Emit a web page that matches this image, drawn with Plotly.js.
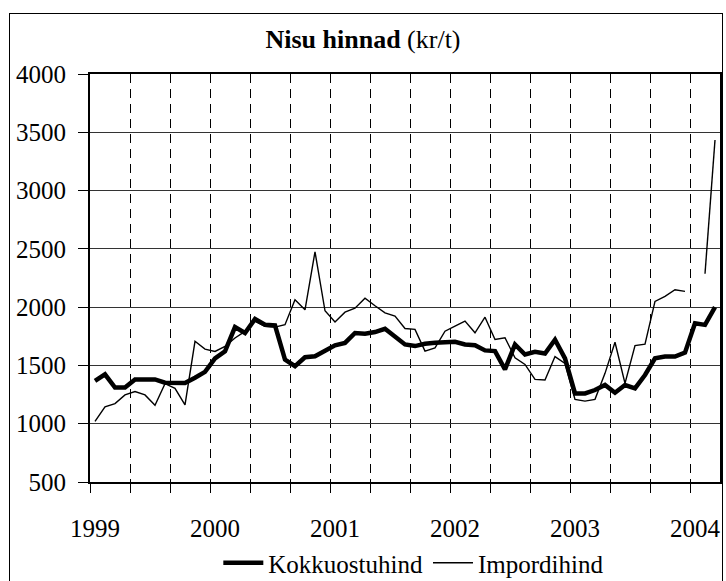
<!DOCTYPE html>
<html>
<head>
<meta charset="utf-8">
<script src="https://cdn.plot.ly/plotly-3.0.1.min.js"></script>
<style>
  html, body { margin: 0; padding: 0; background: #fff; overflow: hidden; }
  #wrap { position: relative; width: 726px; height: 581px; overflow: hidden; }
  #chart { position: absolute; left: 0; top: 0; width: 726px; height: 581px; }
  #frame { position: absolute; left: 9px; top: 13px; width: 714px; height: 620px;
           border: 1.5px solid #000; pointer-events: none; box-sizing: border-box; }
</style>
</head>
<body>
<div id="wrap">
  <div id="chart"></div>
  <div id="frame"></div>
</div>
<script>
// Monthly wheat prices, Jan 1999 - Mar 2004 (kr/t)
const kokkuostuhind = [
  1367, 1423, 1310, 1310, 1380, 1380, 1380, 1352, 1350, 1350, 1395, 1445,
  1560, 1621, 1829, 1778, 1898, 1849, 1843, 1550, 1493, 1570, 1579, 1621,
  1673, 1693, 1778, 1772, 1786, 1814, 1751, 1680, 1666, 1686, 1694, 1703,
  1703, 1680, 1674, 1629, 1623, 1466, 1680, 1594, 1617, 1602, 1720, 1560,
  1260, 1260, 1289, 1332, 1266, 1332, 1303, 1418, 1561, 1576, 1576, 1610,
  1862, 1848, 2000
];
const impordihind = [
  1020, 1145, 1173, 1247, 1276, 1247, 1159, 1344, 1304, 1162, 1707, 1640,
  1620, 1664, 1735, 1792, 1878, 1835, 1829, 1849, 2063, 1977, 2475, 1969,
  1872, 1957, 1991, 2077, 2012, 1951, 1923, 1817, 1809, 1623, 1651, 1794,
  1837, 1880, 1780, 1914, 1723, 1737, 1566, 1509, 1380, 1375, 1576, 1518,
  1209, 1194, 1209, 1432, 1699, 1346, 1670, 1682, 2049, 2092, 2149, 2135,
  null, 2287, 3434
];
const yearLabels = ['1999', '2000', '2001', '2002', '2003', '2004'];
const yearTickIdx = [0, 12, 24, 36, 48, 60];
const seriesNames = ['Kokkuostuhind', 'Impordihind'];

const monthIdx = kokkuostuhind.map((_, i) => i);
const FONT = 'Liberation Serif, Times New Roman, serif';

const traces = [
  { x: monthIdx, y: kokkuostuhind, name: seriesNames[0], type: 'scatter', mode: 'lines',
    line: { color: '#000', width: 4.5 }, connectgaps: false },
  { x: monthIdx, y: impordihind, name: seriesNames[1], type: 'scatter', mode: 'lines',
    line: { color: '#000', width: 1.4 }, connectgaps: false }
];

const layout = {
  width: 726, height: 581,
  margin: { l: 90, r: 6, t: 74, b: 99, pad: 0 },
  paper_bgcolor: '#fff', plot_bgcolor: '#fff',
  font: { family: FONT, size: 25, color: '#000' },
  title: { text: '<b>Nisu hinnad</b> (kr/t)', font: { family: FONT, size: 26, color: '#000' },
           x: 0.5, xref: 'container', y: 1 - 39 / 581, yref: 'container', yanchor: 'middle', xanchor: 'center' },
  showlegend: true,
  legend: { orientation: 'h', x: 0.514, xanchor: 'center', xref: 'paper',
            y: 1 - 563 / 581, yref: 'container', yanchor: 'middle',
            font: { family: FONT, size: 25, color: '#000' }, itemwidth: 40, tracegroupgap: 0,
            bgcolor: 'rgba(0,0,0,0)' },
  xaxis: {
    range: [-0.5, 62.5], autorange: false,
    tickmode: 'array', tickvals: yearTickIdx, ticktext: yearLabels,
    ticks: '', showgrid: false, zeroline: false,
    showline: true, linecolor: '#000', linewidth: 2, mirror: true,
    ticklabelstandoff: 23,
    tickfont: { family: FONT, size: 25, color: '#000' },
    minor: { tick0: -0.5, dtick: 4, ticks: 'outside', ticklen: 9, tickwidth: 1, tickcolor: '#000',
             showgrid: true, gridcolor: '#000', gridwidth: 1, griddash: '9px,6px' }
  },
  yaxis: {
    range: [500, 4000], autorange: false, tickmode: 'linear', tick0: 500, dtick: 500,
    ticks: 'outside', ticklen: 10, tickwidth: 1, tickcolor: '#000',
    showgrid: true, gridcolor: '#333', gridwidth: 1, zeroline: false,
    showline: true, linecolor: '#000', linewidth: 2, mirror: true,
    ticklabelstandoff: 7,
    tickfont: { family: FONT, size: 25, color: '#000' }
  }
};

Plotly.newPlot('chart', traces, layout, { staticPlot: true, displayModeBar: false });
</script>
</body>
</html>
